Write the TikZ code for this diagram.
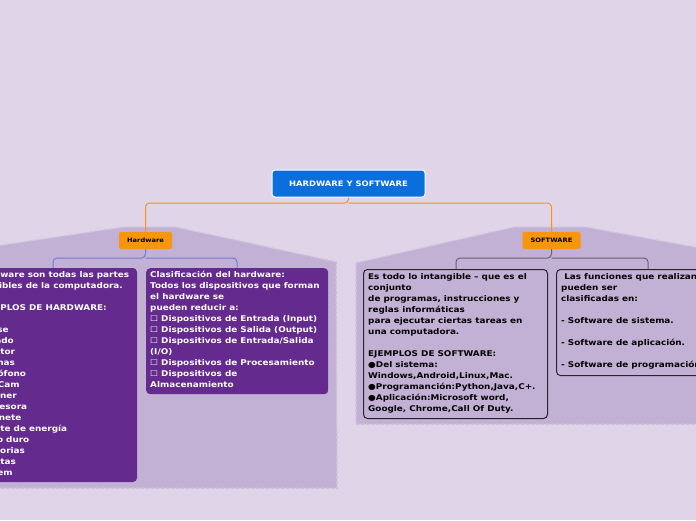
\documentclass[tikz,border=0pt]{standalone}
\usepackage{fontspec}
\setmainfont{DejaVu Sans}[FakeStretch=1.12]
\begin{document}
\begin{tikzpicture}[x=1pt,y=-1pt,
  txt/.style={font=\bfseries\fontsize{7.9}{11}\selectfont, align=left, anchor=north west, inner sep=0pt},
  region/.style={fill=regionc, draw=regionc!80!white, densely dashed, line width=1.5pt},
  topic/.style={fill=orangec, rounded corners=2pt, font=\bfseries\fontsize{6}{7}\selectfont, text=black, minimum height=17pt, inner sep=0pt},
  hwbox/.style={fill=hwc, rounded corners=4pt},
  swbox/.style={fill=regionc, draw=black!85, line width=1pt, rounded corners=4pt},
  hwline/.style={draw=bluec, line width=1pt, rounded corners=4pt},
  swline/.style={draw=grayc, line width=1pt, rounded corners=4pt},
  orline/.style={draw=orangec, line width=1pt, rounded corners=4pt}]
\definecolor{bgc}{HTML}{E0D5E8}
\definecolor{regionc}{HTML}{C3B0D5}
\definecolor{orangec}{HTML}{F7960C}
\definecolor{hwc}{HTML}{652A8E}
\definecolor{bluec}{HTML}{6A80DA}
\definecolor{grayc}{HTML}{6E5E78}
\definecolor{mainc}{HTML}{0A6FDC}
\useasboundingbox (0,0) rectangle (696,520);
\clip (0,0) rectangle (696,520);
\fill[bgc] (0,0) rectangle (696,520);
% regions
\draw[region] (-10,247) -- (125,227) -- (175,227) -- (336,262) -- (337,488) -- (-10,488) -- cycle;
\draw[region] (356,263) -- (515,227) -- (585,227) -- (710,250) -- (710,424) -- (356,424) -- cycle;
% central
\node[fill=mainc, draw=white, line width=1pt, rounded corners=3pt, minimum width=153pt, minimum height=27pt, text=white, font=\bfseries\fontsize{7.5}{9}\selectfont] (root) at (348.5,183.5) {HARDWARE Y SOFTWARE};
\node[topic, minimum width=53pt] (hw) at (145.5,240.5) {Hardware};
\node[topic, minimum width=58pt] (sw) at (551.5,240.5) {SOFTWARE};
\coordinate (j) at (348.5,203);
\draw[orline] (root.south) -- (j) -- (145.5,203) -- (hw.north);
\draw[orline] (j) -- (551.5,203) -- (sw.north);
% hardware boxes
\path[hwbox] (-40,268) rectangle (137,482);
\node[hwbox, minimum width=182pt, minimum height=126pt, anchor=north west] (hb2) at (146,268) {};
\coordinate (hb1) at (53,268);
\draw[hwline] (hw.south) -- (145.5,258) -- (53,258) -- (hb1);
\draw[hwline] (145.5,258) -- (237,258) -- (237,268);
\node[txt, text=white] (t1) at (-24,271) {Hardware son todas las partes\\tangibles de la computadora.\\[11pt]EJEMPLOS DE HARDWARE:\\[11pt]Mouse\\Teclado\\Monitor\\Bocinas\\Micrófono\\WebCam\\Scanner\\Impresora\\Gabinete\\Fuente de energía\\Disco duro\\Memorias\\Tarjetas\\Módem};
\node[txt, text=white] (t2) at (150,271) {Clasificación del hardware:\\Todos los dispositivos que forman\\el hardware se\\pueden reducir a:\\☐ Dispositivos de Entrada (Input)\\☐ Dispositivos de Salida (Output)\\☐ Dispositivos de Entrada/Salida\\(I/O)\\☐ Dispositivos de Procesamiento\\☐ Dispositivos de\\Almacenamiento};
% software boxes
\node[swbox, minimum width=184pt, minimum height=149pt, anchor=north west] (sb1) at (363,269) {};
\node[swbox, minimum width=170pt, minimum height=106pt, anchor=north west] (sb2) at (556,269) {};
\draw[swline] (sw.south) -- (551.5,258) -- (456,258) -- (456,269);
\draw[swline] (551.5,258) -- (648,258) -- (648,269);
\node[txt, text=black] (t3) at (368,273) {Es todo lo intangible – que es el\\conjunto\\de programas, instrucciones y\\reglas informáticas\\para ejecutar ciertas tareas en\\una computadora.\\[11pt]EJEMPLOS DE SOFTWARE:\\●Del sistema:\\Windows,Android,Linux,Mac.\\●Programanción:Python,Java,C+.\\●Aplicación:Microsoft word,\\Google, Chrome,Call Of Duty.};
\node[txt, text=black] (t4) at (561,273) {\ Las funciones que realizan\\pueden ser\\clasificadas en:\\[11pt]- Software de sistema.\\[11pt]- Software de aplicación.\\[11pt]- Software de programación.};
\end{tikzpicture}
\end{document}
